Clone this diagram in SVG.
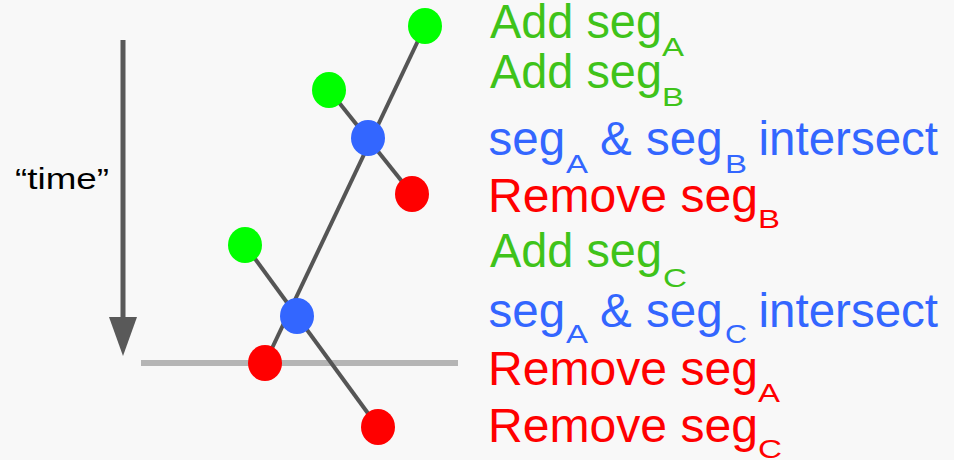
<svg xmlns="http://www.w3.org/2000/svg" width="954" height="460" viewBox="0 0 954 460">
<style>
.t{font-family:"Liberation Sans",Arial,sans-serif;font-size:47.5px}
.s{font-family:"Liberation Sans",Arial,sans-serif;font-size:25px}
.g{fill:#3fc31a}.b{fill:#3366ff}.r{fill:#ff0000}
.seg{stroke:#555555;stroke-width:4;fill:none}
</style>
<rect width="954" height="460" fill="#f8f8f8"/>
<g id="time-axis">
<line x1="123" y1="40" x2="123" y2="320" stroke="#595959" stroke-width="5"/>
<polygon points="109,317 137,317 123,356" fill="#595959"/>
<text x="15" y="189" font-family="Liberation Sans, Arial, sans-serif" font-size="30" fill="#000" textLength="94" lengthAdjust="spacingAndGlyphs">“time”</text>
</g>
<g id="sweep-line">
<line x1="141" y1="363" x2="458" y2="363" stroke="#b5b5b5" stroke-width="6"/>
</g>
<g id="connectors">
<line class="seg" x1="425" y1="26" x2="265" y2="363"/>
<line class="seg" x1="329" y1="90" x2="412" y2="194"/>
<line class="seg" x1="245" y1="245" x2="378" y2="427"/>
</g>
<g id="nodes">
<ellipse id="addA" cx="425" cy="26" rx="17" ry="18" fill="#00ff00"/>
<ellipse id="addB" cx="329" cy="90" rx="17" ry="18" fill="#00ff00"/>
<ellipse id="intAB" cx="368" cy="138" rx="17" ry="18" fill="#3366ff"/>
<ellipse id="remB" cx="412" cy="194" rx="17" ry="18" fill="#ff0000"/>
<ellipse id="addC" cx="245" cy="245" rx="17" ry="18" fill="#00ff00"/>
<ellipse id="intAC" cx="297" cy="316" rx="17" ry="18" fill="#3366ff"/>
<ellipse id="remA" cx="265" cy="363" rx="17" ry="18" fill="#ff0000"/>
<ellipse id="remC" cx="378" cy="427" rx="17" ry="18" fill="#ff0000"/>
</g>
<g id="events">
<text class="t g" x="490" y="38" textLength="172" lengthAdjust="spacingAndGlyphs">Add seg</text><text class="s g" x="662" y="56" textLength="22" lengthAdjust="spacingAndGlyphs">A</text>
<text class="t g" x="490" y="88" textLength="172" lengthAdjust="spacingAndGlyphs">Add seg</text><text class="s g" x="662" y="106" textLength="22" lengthAdjust="spacingAndGlyphs">B</text>
<text class="t b" x="488.5" y="155">seg</text><text class="s b" x="566" y="173" textLength="22" lengthAdjust="spacingAndGlyphs">A</text><text class="t b" x="600" y="155">&amp;</text><text class="t b" x="646" y="155">seg</text><text class="s b" x="725" y="173" textLength="22" lengthAdjust="spacingAndGlyphs">B</text><text class="t b" x="758.5" y="155">intersect</text>
<text class="t r" x="488" y="212" textLength="270" lengthAdjust="spacingAndGlyphs">Remove seg</text><text class="s r" x="758" y="228" textLength="22" lengthAdjust="spacingAndGlyphs">B</text>
<text class="t g" x="490" y="267" textLength="172" lengthAdjust="spacingAndGlyphs">Add seg</text><text class="s g" x="663" y="287" textLength="24" lengthAdjust="spacingAndGlyphs">C</text>
<text class="t b" x="488.5" y="327">seg</text><text class="s b" x="566" y="343" textLength="22" lengthAdjust="spacingAndGlyphs">A</text><text class="t b" x="600" y="327">&amp;</text><text class="t b" x="646" y="327">seg</text><text class="s b" x="725" y="343" textLength="22" lengthAdjust="spacingAndGlyphs">C</text><text class="t b" x="758.5" y="327">intersect</text>
<text class="t r" x="488" y="385" textLength="270" lengthAdjust="spacingAndGlyphs">Remove seg</text><text class="s r" x="758" y="402" textLength="22" lengthAdjust="spacingAndGlyphs">A</text>
<text class="t r" x="488" y="442" textLength="270" lengthAdjust="spacingAndGlyphs">Remove seg</text><text class="s r" x="758" y="458" textLength="24" lengthAdjust="spacingAndGlyphs">C</text>
</g>
</svg>
